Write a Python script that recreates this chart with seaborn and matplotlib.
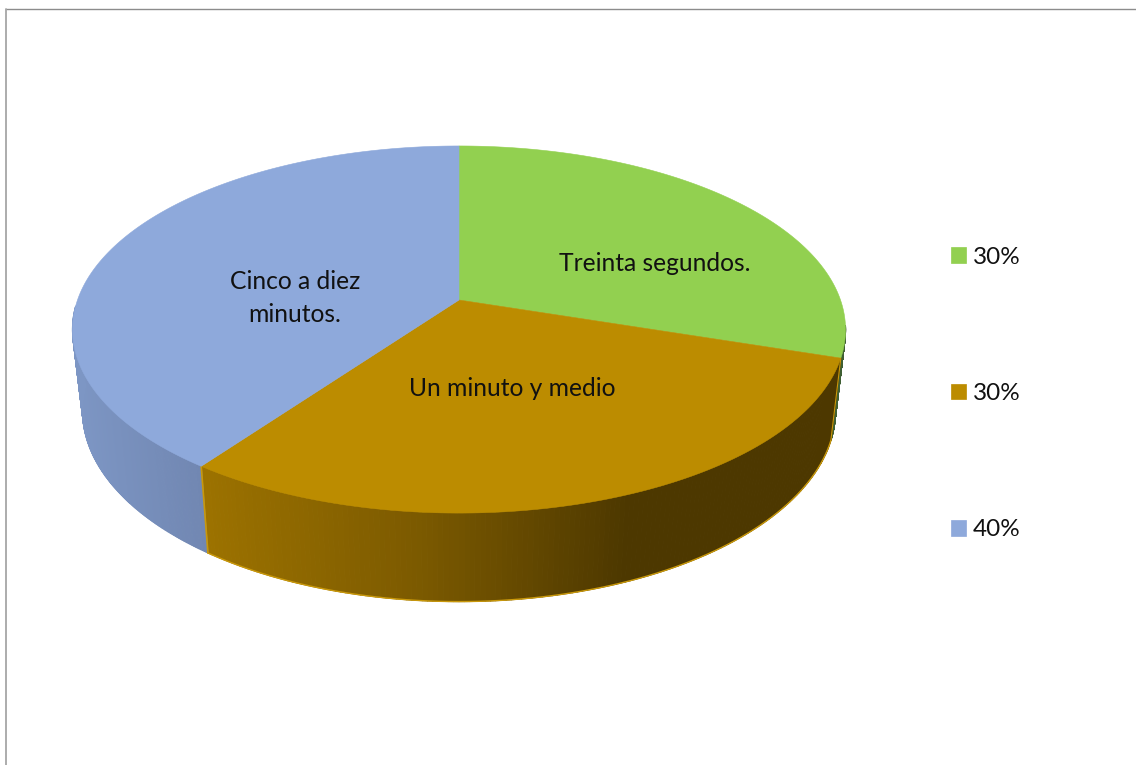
import numpy as np
import matplotlib
matplotlib.use("Agg")
import matplotlib.pyplot as plt
from matplotlib.collections import PolyCollection
from matplotlib.patches import Polygon, Patch
import seaborn as sns

# Survey answers and their shares
categories = ["Treinta segundos.", "Un minuto y medio", "Cinco a diez\nminutos."]
shares = [30, 30, 40]
top_colors = ["#92D050", "#BC8C00", "#8EA9DB"]
wall_ramps = [["#3F5F33", "#3F5F33"],
              ["#9C7200", "#7C5A00", "#4D3800", "#4D3800"],
              ["#7D96C4", "#7187B2"]]

sns.set_theme(style="white")
plt.rcParams["font.family"] = ["Lato", "DejaVu Sans"]

fig = plt.figure(figsize=(11.36, 7.65), dpi=100)
ax = fig.add_axes([0, 0, 1, 1])
ax.set_xlim(0, 1136)
ax.set_ylim(765, 0)
ax.axis("off")

# Perspective disc: circle angle (clockwise from 12 o'clock) to canvas position
CX, CY = 459.0, 300.0
K, RX, RY = 0.1608, 381.5, 178.8
DROP, SX, SY = 80.0, 0.974, 1.04
# Only this arc of the outer wall faces the viewer
FRONT_FROM, FRONT_TO = np.deg2rad(98), np.deg2rad(268)


def rim(theta, lower=False):
    x, y = np.sin(theta), np.cos(theta)
    w = 1 + K * y
    dx, dy = RX * x / w, -RY * y / w
    if lower:
        return CX + SX * dx, CY + SY * dy + DROP
    return CX + dx, CY + dy


edges = np.deg2rad(np.concatenate([[0], np.cumsum(shares)]) * 3.6)

# Outer walls first: thin strips shaded by their horizontal position
for i, ramp in enumerate(wall_ramps):
    start, stop = max(edges[i], FRONT_FROM), min(edges[i + 1], FRONT_TO)
    t = np.linspace(start, stop, 160)
    ux, uy = rim(t)
    lx, ly = rim(t, lower=True)
    quads = [[(ux[j], uy[j]), (ux[j + 1], uy[j + 1]),
              (lx[j + 1], ly[j + 1]), (lx[j], ly[j])] for j in range(len(t) - 1)]
    mid = (ux[:-1] + ux[1:] + lx[:-1] + lx[1:]) / 4
    shade = sns.blend_palette(ramp, n_colors=256, as_cmap=True)
    tones = shade((mid - mid.min()) / (mid.max() - mid.min()))
    ax.add_collection(PolyCollection(quads, facecolors=tones, edgecolors=tones,
                                     linewidths=0.8, zorder=2))
    if i == 1:
        sns.lineplot(x=lx, y=ly, sort=False, estimator=None, ax=ax,
                     color="#C9980A", lw=1.0, zorder=3)
        ax.plot([ux[0], lx[0]], [uy[0], ly[0]], color="#C9980A", lw=0.8, zorder=3)
        ax.plot([ux[-1], lx[-1]], [uy[-1], ly[-1]], color="#C9980A", lw=1.2, zorder=3)

# Top faces of the slices
for i, color in enumerate(top_colors):
    t = np.linspace(edges[i], edges[i + 1], 200)
    ux, uy = rim(t)
    verts = np.column_stack([np.r_[CX, ux], np.r_[CY, uy]])
    ax.add_patch(Polygon(verts, closed=True, facecolor=color,
                         edgecolor=color, lw=0.4, zorder=4))

# Slice captions
label_spots = [(655, 263), (512, 388), (295, 298)]
for text, (lx, ly) in zip(categories, label_spots):
    ax.text(lx, ly, text, ha="center", va="center", fontsize=17.7,
            color="#111111", linespacing=1.5, zorder=5)

# Percent legend on the right
handles = [Patch(facecolor=c, edgecolor=c, lw=0.5) for c in top_colors]
labels = [f"{s}%" for s in shares]
ax.legend(handles, labels, loc="center left", bbox_to_anchor=(951, 393.5),
          bbox_transform=ax.transData, frameon=False, fontsize=17.5,
          borderpad=0, borderaxespad=0,
          handlelength=0.6, handleheight=0.6, handletextpad=0.3,
          labelspacing=4.75, labelcolor="#111111")

# Chart-area border, open at the right and bottom of the canvas
ax.plot([5.5, 1136], [9, 9], color="#8C8C8C", lw=1.0, zorder=1)
ax.plot([5.5, 5.5], [9, 765], color="#A6A6A6", lw=1.3, zorder=1)

ax.set_xlim(0, 1136)
ax.set_ylim(765, 0)
fig.savefig("out.png", dpi=100, facecolor="white")
